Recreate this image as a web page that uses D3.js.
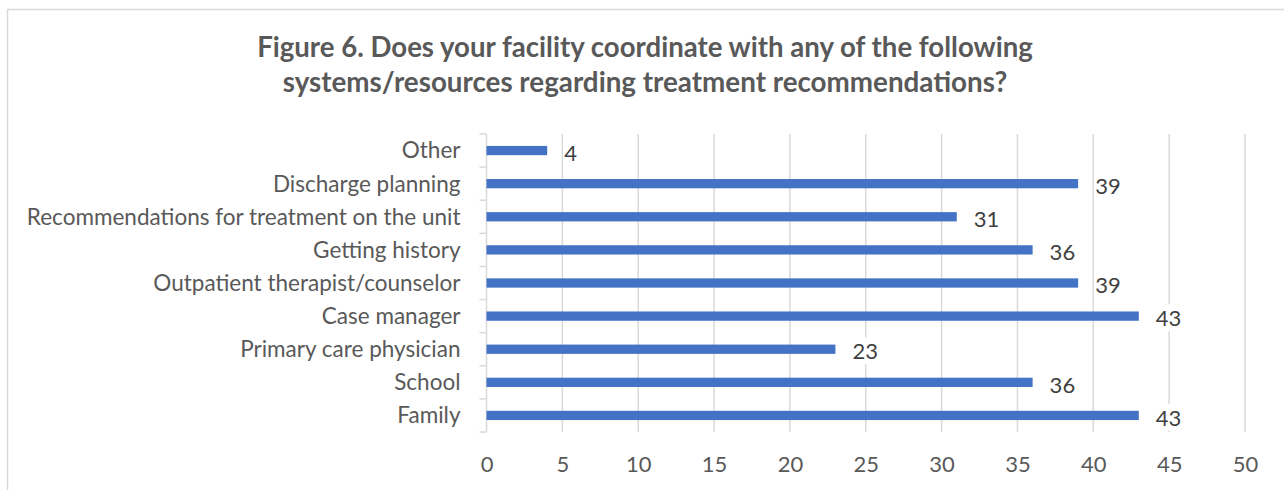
<!DOCTYPE html>
<html>
<head>
<meta charset="utf-8">
<script src="https://cdn.jsdelivr.net/npm/d3@7"></script>
<style>
    body { margin: 0; background: #fff; }
    text { font-family: Lato, 'Liberation Sans', sans-serif; }
</style>
</head>
<body>
<div id="chart"></div>
<script>
const categories = ['Other', 'Discharge planning', 'Recommendations for treatment on the unit',
    'Getting history', 'Outpatient therapist/counselor', 'Case manager',
    'Primary care physician', 'School', 'Family'];
const counts = [4, 39, 31, 36, 39, 43, 23, 36, 43];
const xTicks = [0, 5, 10, 15, 20, 25, 30, 35, 40, 45, 50];
const titleLines = ['Figure 6. Does your facility coordinate with any of the following',
    'systems/resources regarding treatment recommendations?'];

const width = 1284;
const height = 490;
const margin = { top: 134, right: 39, bottom: 58, left: 486.5 };

const svg = d3.select('#chart')
    .append('svg')
    .attr('width', width)
    .attr('height', height);

// chart frame (right/bottom edges fall outside the picture)
svg.append('rect')
    .attr('x', 7.5).attr('y', 9.5)
    .attr('width', width).attr('height', height)
    .attr('fill', 'none')
    .attr('stroke', '#d9d9d9')
    .attr('stroke-width', 1.5);

// fit a text element to a given width by adjusting font size
function fitText(sel, target) {
    const w = sel.node().getComputedTextLength();
    const fs = parseFloat(sel.attr('font-size'));
    sel.attr('font-size', fs * target / w);
}

// title
const titleWidths = [776, 725];
titleLines.forEach((line, i) => {
    const t = svg.append('text')
        .attr('x', 645)
        .attr('y', 57 + i * 35)
        .attr('text-anchor', 'middle')
        .attr('font-weight', 'bold')
        .attr('font-size', 24)
        .attr('fill', '#595959')
        .text(line);
    fitText(t, titleWidths[i]);
});

const x = d3.scaleLinear()
    .domain([0, 50])
    .range([margin.left, width - margin.right]);

const y = d3.scaleBand()
    .domain(categories)
    .range([margin.top, height - margin.bottom]);

const g = svg.append('g');

// gridlines
g.append('g')
    .selectAll('line')
    .data(xTicks.slice(1))
    .join('line')
    .attr('x1', d => x(d)).attr('x2', d => x(d))
    .attr('y1', margin.top).attr('y2', height - margin.bottom)
    .attr('stroke', '#d9d9d9')
    .attr('stroke-width', 1.5);

// left axis with category labels
const yAxis = g.append('g')
    .attr('transform', `translate(${margin.left},0)`)
    .call(d3.axisLeft(y).tickSize(0).tickPadding(26));
yAxis.select('.domain')
    .attr('stroke', '#d9d9d9')
    .attr('stroke-width', 1.5)
    .attr('d', `M0,${margin.top}V${height - margin.bottom}`);
yAxis.selectAll('.tick text')
    .attr('font-size', 21)
    .attr('fill', '#595959')
    .attr('dy', '0.35em')
    .style('font-family', 'Lato, sans-serif');

// category boundary ticks
yAxis.append('g')
    .selectAll('line')
    .data(categories.map(c => y(c)).concat([y.range()[1]]))
    .join('line')
    .attr('x1', -7).attr('x2', 0)
    .attr('y1', d => d).attr('y2', d => d)
    .attr('stroke', '#d9d9d9')
    .attr('stroke-width', 1.5);

// scale category labels so the longest matches the reference width
const longest = yAxis.selectAll('.tick text').filter(d => d === categories[2]);
const lw = longest.node().getComputedTextLength();
yAxis.selectAll('.tick text').attr('font-size', 21 * 434 / lw);

// bottom axis labels
const xAxis = g.append('g')
    .attr('transform', `translate(0,${height - margin.bottom})`)
    .call(d3.axisBottom(x).tickValues(xTicks).tickSize(0).tickPadding(24));
xAxis.select('.domain').remove();
xAxis.selectAll('.tick text')
    .attr('font-size', 22)
    .attr('fill', '#595959')
    .style('font-family', 'Lato, sans-serif');

// bars
const barH = y.bandwidth() * 0.28;
g.append('g')
    .selectAll('rect')
    .data(counts)
    .join('rect')
    .attr('x', x(0))
    .attr('y', (d, i) => y(categories[i]) + y.bandwidth() / 2 - barH / 2)
    .attr('width', d => x(d) - x(0))
    .attr('height', barH)
    .attr('fill', '#4472c4');

// data labels with white backing
const labels = g.append('g')
    .selectAll('g')
    .data(counts)
    .join('g')
    .attr('transform', (d, i) => `translate(${x(d) + 17},${y(categories[i]) + y.bandwidth() / 2 + 2.5})`);
labels.append('text')
    .attr('dy', '0.35em')
    .attr('font-size', 22)
    .attr('fill', '#404040')
    .text(d => d);
labels.insert('rect', 'text')
    .each(function () {
        const bb = this.parentNode.querySelector('text').getBBox();
        d3.select(this)
            .attr('x', bb.x - 1).attr('y', bb.y)
            .attr('width', bb.width + 2).attr('height', bb.height);
    })
    .attr('fill', '#fff');
</script>
</body>
</html>
